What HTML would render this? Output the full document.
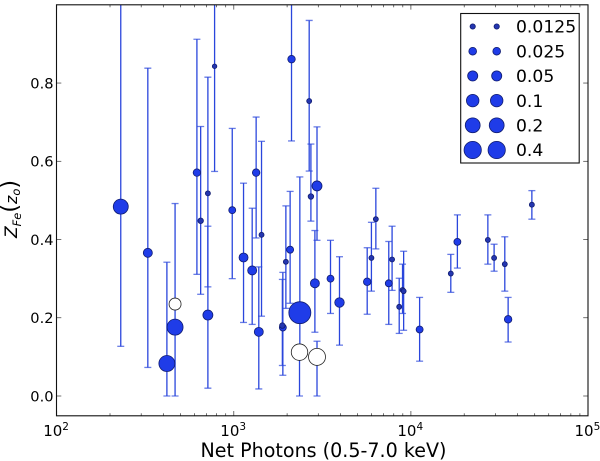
<!DOCTYPE html>
<html>
<head>
<meta charset="utf-8">
<style>
html,body{margin:0;padding:0;background:#fff;width:600px;height:461px;overflow:hidden}
svg{display:block}
text{font-family:"DejaVu Sans","Liberation Sans",sans-serif;fill:#000}
</style>
</head>
<body>
<svg id="chart" width="600" height="461" viewBox="0 0 600 461" xmlns="http://www.w3.org/2000/svg">
<defs><clipPath id="plot-clip"><rect x="56.5" y="4.8" width="531.5" height="411"/></clipPath></defs>
<rect x="56.5" y="4.8" width="531.5" height="411" fill="#fff"/>
<g id="bars" clip-path="url(#plot-clip)"></g>
<g id="marks" clip-path="url(#plot-clip)"></g>
<g id="ticks"></g>
<rect x="56.5" y="4.8" width="531.5" height="411" fill="none" stroke="#111" stroke-width="1.1"/>
<g id="labels"></g>
<text x="323.5" y="457" font-size="19.1" text-anchor="middle">Net Photons (0.5-7.0 keV)</text>
<text transform="translate(17,238) rotate(-90)" font-size="17" font-style="italic">Z<tspan font-size="11.5" dy="4">Fe</tspan><tspan font-style="normal" font-size="22" dy="-4">(</tspan><tspan font-size="16">z</tspan><tspan font-size="11.5" dy="3">o</tspan><tspan font-style="normal" font-size="22" dy="-3">)</tspan></text>
<g id="legend">
<rect x="460.7" y="13.5" width="118.5" height="149.5" fill="#fff" stroke="#111" stroke-width="1.1"/>
</g>
</svg>
<script>
const photons = [230,327,419,466,466,619,650,714,714,779,980,1135,1270,1337,1384,1434,1892,1880,1968,2080,2118,2360,2350,2665,2725,2870,2950,3516,3952,5665,5985,6340,7500,7830,8590,8970,9100,11200,16800,18300,27200,29500,33900,35400,48200];
const zFe = [0.484,0.366,0.083,0.176,0.235,0.571,0.448,0.207,0.518,0.843,0.475,0.354,0.321,0.571,0.164,0.412,0.175,0.180,0.343,0.374,0.861,0.213,0.112,0.754,0.510,0.288,0.537,0.300,0.239,0.292,0.353,0.452,0.288,0.349,0.228,0.271,0.268,0.170,0.313,0.394,0.399,0.353,0.337,0.196,0.489];
const zLow = [0.127,0.073,0,0,0.235,0.311,0.260,0.020,0.279,0.574,0.300,0.188,0.183,0.404,0.018,0.204,0.053,0.078,0.224,0.237,0.652,0.120,0,0.575,0.447,0.163,0.398,0.211,0.130,0.209,0.268,0.376,0.183,0.270,0.160,0.211,0.168,0.089,0.265,0.327,0.337,0.319,0.268,0.138,0.452];
const zHigh = [1.05,0.838,0.342,0.492,0.235,0.912,0.689,0.434,0.815,1.05,0.684,0.544,0.480,0.713,0.330,0.651,0.316,0.298,0.486,0.523,1.05,0.560,0.120,0.960,0.644,0.423,0.688,0.398,0.356,0.379,0.444,0.531,0.395,0.434,0.301,0.337,0.370,0.252,0.362,0.463,0.463,0.388,0.407,0.252,0.525];
const redshift = [0.206,0.0364,0.275,0.275,0.0865,0.0236,0.0133,0.0486,0.0115,0.0099,0.0204,0.0364,0.0364,0.0236,0.0364,0.0115,0.0204,0.0133,0.0115,0.0204,0.0236,1.56,0.318,0.0115,0.0133,0.0364,0.0486,0.0204,0.042,0.0236,0.0115,0.0115,0.0204,0.0115,0.0115,0.0115,0.0115,0.0204,0.0115,0.0204,0.0115,0.0115,0.0115,0.0236,0.0115];
const filled = [1,1,1,1,0,1,1,1,1,1,1,1,1,1,1,1,1,1,1,1,1,1,0,1,1,1,1,1,1,1,1,1,1,1,1,1,1,1,1,1,1,1,1,1,1];
const whiteExtra = [[2950,0.100,0,0.140,0.367]];
const xDecades = [2,3,4,5];
const minorMultipliers = [2,3,4,5,6,7,8,9];
const yTicks = [0,0.2,0.4,0.6,0.8];
const legendValues = ["0.0125","0.025","0.05","0.1","0.2","0.4"];

const NS = 'http://www.w3.org/2000/svg';
function xPos(v){ return 56.7 + (Math.log10(v) - 2) * 177.1; }
function yPos(v){ return 396 - v * 391.2; }
function diameter(z){ return 5.3 + 2.4 * Math.log2(z / 0.0125); }
function make(tag, parent, attrs){
  const el = document.createElementNS(NS, tag);
  for (const k in attrs) el.setAttribute(k, attrs[k]);
  parent.appendChild(el);
  return el;
}
const bars = document.getElementById('bars');
const marks = document.getElementById('marks');
const ticks = document.getElementById('ticks');
const labels = document.getElementById('labels');
const legend = document.getElementById('legend');

function drawBar(px, lo, hi){
  const x = xPos(px);
  const g = make('g', bars, {stroke:'#2a46dc','stroke-width':1.3,fill:'none'});
  
  
  make('line', g, {x1:x, x2:x, y1:yPos(lo), y2:yPos(hi)});
  make('line', g, {x1:x-3.5, x2:x+3.5, y1:yPos(lo), y2:yPos(lo), 'stroke-opacity':0.7});
  make('line', g, {x1:x-3.5, x2:x+3.5, y1:yPos(hi), y2:yPos(hi), 'stroke-opacity':0.7});
}
function drawPoint(px, z, shift, isFilled){
  const d = diameter(shift);
  const c = make('circle', marks, {
    cx: xPos(px), cy: yPos(z), r: d / 2,
    fill: isFilled ? (d < 6 ? '#2436b0' : '#1f3ce8') : '#fff',
    stroke: isFilled ? '#101c70' : '#222', 'stroke-width': 0.8
  });
  
  
}
photons.forEach((p, i) => {
  if (zHigh[i] > zLow[i]) drawBar(p, zLow[i], zHigh[i]);
});
whiteExtra.forEach(w => drawBar(w[0], w[2], w[3]));
photons.forEach((p, i) => drawPoint(p, zFe[i], redshift[i], filled[i] === 1));
whiteExtra.forEach(w => drawPoint(w[0], w[1], w[4], false));

const tickStyle = {stroke:'#333','stroke-width':0.7};
xDecades.forEach(dec => {
  const v = Math.pow(10, dec);
  const x = xPos(v);
  make('line', ticks, Object.assign({x1:x, x2:x, y1:415.8, y2:411}, tickStyle));
  make('line', ticks, Object.assign({x1:x, x2:x, y1:4.8, y2:9.6}, tickStyle));
  const t = make('text', labels, {x:x - 13.5, y:436, 'font-size':15});
  
  
  t.textContent = '10';
  const s = make('tspan', t, {dy:-6, 'font-size':10.5});
  s.textContent = String(dec);
  if (dec < 5) minorMultipliers.forEach(m => {
    const mx = xPos(m * v);
    make('line', ticks, Object.assign({x1:mx, x2:mx, y1:415.8, y2:413.3}, tickStyle));
    make('line', ticks, Object.assign({x1:mx, x2:mx, y1:4.8, y2:7.3}, tickStyle));
  });
});
yTicks.forEach(v => {
  const y = yPos(v);
  make('line', ticks, Object.assign({x1:56.5, x2:61.3, y1:y, y2:y}, tickStyle));
  make('line', ticks, Object.assign({x1:588, x2:583.2, y1:y, y2:y}, tickStyle));
  const t = make('text', labels, {x:53.5, y:y + 5.3, 'font-size':14.6, 'text-anchor':'end'});
  
  
  t.textContent = v.toFixed(1);
});
legendValues.forEach((label, i) => {
  const y = 26.5 + i * 24.7;
  const d = diameter(parseFloat(label));
  [472.7, 496.7].forEach(x => {
    const c = make('circle', legend, {cx:x, cy:y, r:d / 2,
      fill: d < 6 ? '#2436b0' : '#1f3ce8', stroke:'#101c70', 'stroke-width':0.8});
    
    
  });
  const t = make('text', legend, {x:516, y:y + 6.2, 'font-size':17.2});
  
  
  t.textContent = label;
});
</script>
</body>
</html>
